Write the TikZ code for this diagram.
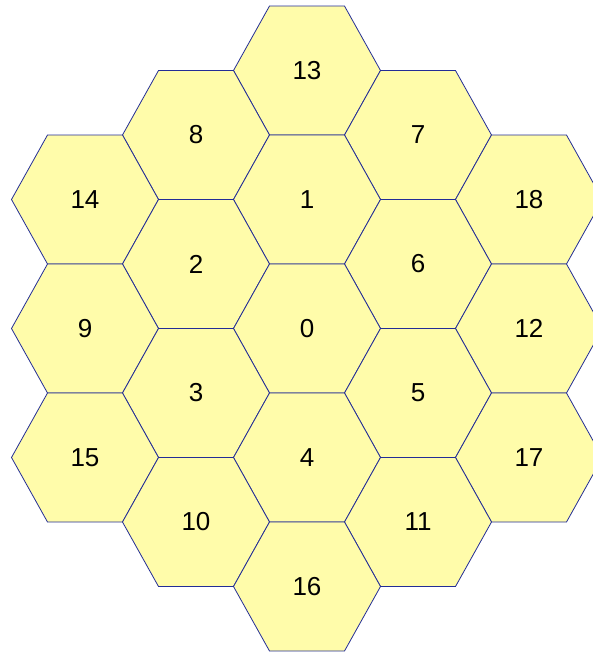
\documentclass[tikz,border=0pt]{standalone}
\usepackage{fontspec}
\setmainfont{Liberation Sans}
\usepackage{tikz}
\definecolor{hexfill}{RGB}{255,252,170}
\definecolor{hexline}{RGB}{35,45,150}
\tikzstyle{hexcell} = [draw=hexline, fill=hexfill, line width=0.8pt, line join=miter]
\tikzstyle{hexlabel} = [inner sep=0pt, font=\fontsize{26}{30}\selectfont]

\begin{document}
\begin{tikzpicture}[x=1pt, y=-1pt]
        \useasboundingbox (0,0) rectangle (593,654);
        % Celdas: columna / fila / numero
        \foreach \c/\k/\n in {0/-4/13, -1/-3/8, 1/-3/7, -2/-2/14, 0/-2/1, 2/-2/18,
                              -1/-1/2, 1/-1/6, -2/0/9, 0/0/0, 2/0/12, -1/1/3, 1/1/5,
                              -2/2/15, 0/2/4, 2/2/17, -1/3/10, 1/3/11, 0/4/16} {
            \begin{scope}[shift={(307+111*\c, 328.5+64.5*\k)}]
                \draw [hexcell] (73.5,0) -- (37.5,64.5) -- (-37.5,64.5) -- (-73.5,0)
                    -- (-37.5,-64.5) -- (37.5,-64.5) -- cycle;
                \node [hexlabel] (hex\n) at (0,0) {\n};
            \end{scope}
        }
    \end{tikzpicture}
\end{document}
